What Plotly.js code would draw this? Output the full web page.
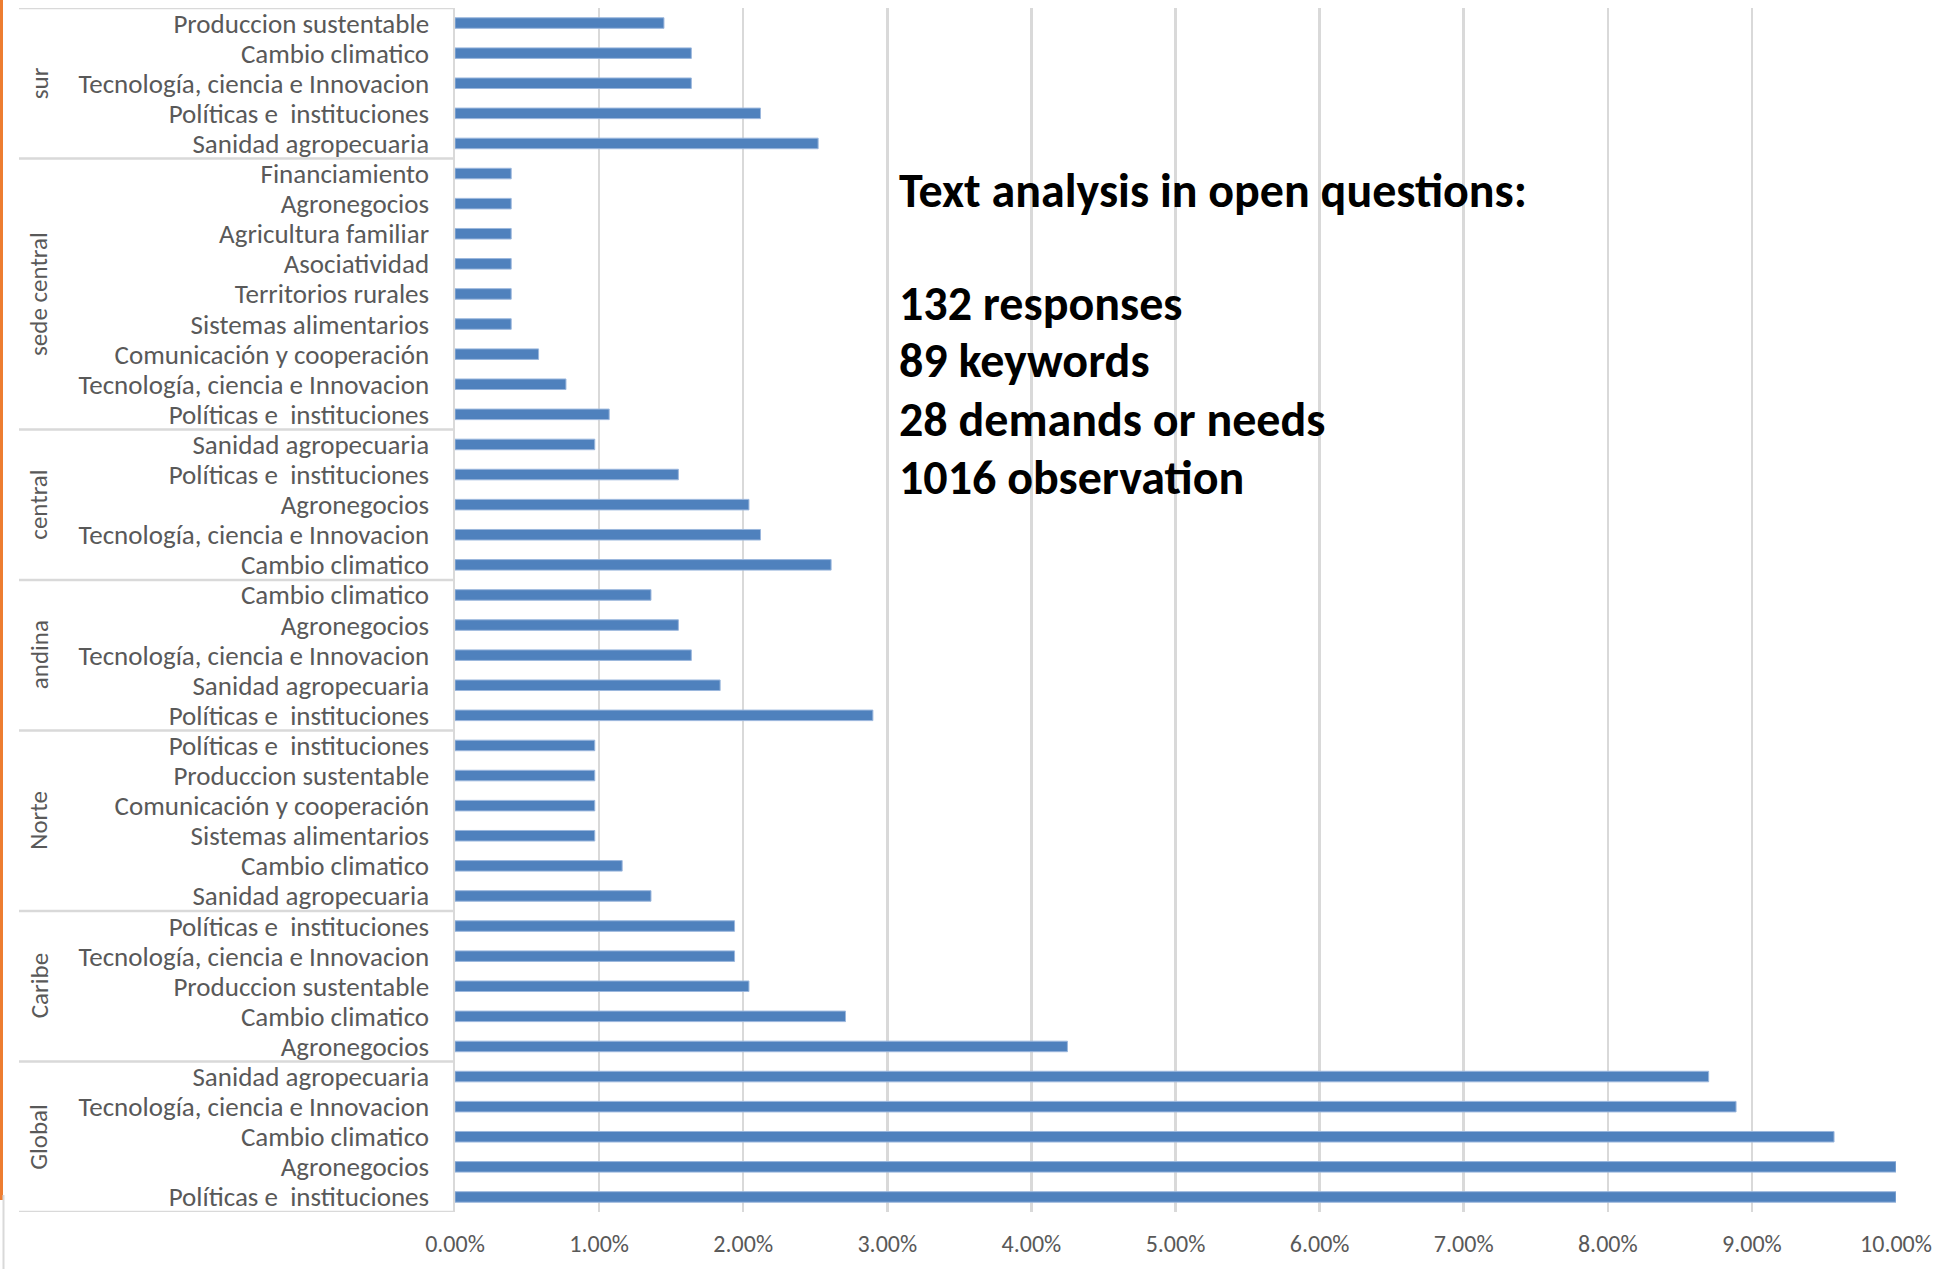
<!DOCTYPE html>
<html>
<head>
<meta charset="utf-8">
<script src="https://cdn.plot.ly/plotly-3.0.1.min.js"></script>
<style>html,body{margin:0;padding:0;background:#fff;}#chart{width:1954px;height:1269px;}</style>
</head>
<body>
<div id="chart"></div>
<script>
// Groups listed bottom-to-top (as drawn on the y axis)
const regions = ['Global', 'Caribe', 'Norte', 'andina', 'central', 'sede central', 'sur'];

const globalLabels = ['Políticas e\u00a0 instituciones', 'Agronegocios', 'Cambio climatico', 'Tecnología, ciencia e Innovacion', 'Sanidad agropecuaria'];
const globalValues = [0.1000, 0.1000, 0.0957, 0.0889, 0.0870];

const caribeLabels = ['Agronegocios', 'Cambio climatico', 'Produccion sustentable', 'Tecnología, ciencia e Innovacion', 'Políticas e\u00a0 instituciones'];
const caribeValues = [0.0425, 0.0271, 0.0204, 0.0194, 0.0194];

const norteLabels = ['Sanidad agropecuaria', 'Cambio climatico', 'Sistemas alimentarios', 'Comunicación y cooperación', 'Produccion sustentable', 'Políticas e\u00a0 instituciones'];
const norteValues = [0.0136, 0.0116, 0.0097, 0.0097, 0.0097, 0.0097];

const andinaLabels = ['Políticas e\u00a0 instituciones', 'Sanidad agropecuaria', 'Tecnología, ciencia e Innovacion', 'Agronegocios', 'Cambio climatico'];
const andinaValues = [0.0290, 0.0184, 0.0164, 0.0155, 0.0136];

const centralLabels = ['Cambio climatico', 'Tecnología, ciencia e Innovacion', 'Agronegocios', 'Políticas e\u00a0 instituciones', 'Sanidad agropecuaria'];
const centralValues = [0.0261, 0.0212, 0.0204, 0.0155, 0.0097];

const sedeLabels = ['Políticas e\u00a0 instituciones', 'Tecnología, ciencia e Innovacion', 'Comunicación y cooperación', 'Sistemas alimentarios', 'Territorios rurales', 'Asociatividad', 'Agricultura familiar', 'Agronegocios', 'Financiamiento'];
const sedeValues = [0.0107, 0.0077, 0.0058, 0.0039, 0.0039, 0.0039, 0.0039, 0.0039, 0.0039];

const surLabels = ['Sanidad agropecuaria', 'Políticas e\u00a0 instituciones', 'Tecnología, ciencia e Innovacion', 'Cambio climatico', 'Produccion sustentable'];
const surValues = [0.0252, 0.0212, 0.0164, 0.0164, 0.0145];

const infoLines = ['Text analysis in open questions:', '132 responses', '89 keywords', '28 demands or needs', '1016 observation'];

const xTickVals = [0, 0.01, 0.02, 0.03, 0.04, 0.05, 0.06, 0.07, 0.08, 0.09, 0.10];

// ---- build ----
const groupLabels = [globalLabels, caribeLabels, norteLabels, andinaLabels, centralLabels, sedeLabels, surLabels];
const groupValues = [globalValues, caribeValues, norteValues, andinaValues, centralValues, sedeValues, surValues];

const yPos = [], xVals = [], tickText = [];
const groupBounds = [];
let idx = 0;
groupLabels.forEach((labs, g) => {
  const start = idx;
  labs.forEach((lab, i) => {
    yPos.push(idx);
    xVals.push(groupValues[g][i]);
    tickText.push(lab);
    idx++;
  });
  groupBounds.push([start, idx - 1]);
});
const nRows = idx;

const W = 1954, H = 1269;
const M = {l: 455, r: 58, t: 8, b: 57};
const plotW = W - M.l - M.r, plotH = H - M.t - M.b;
const px2paperX = px => (px - M.l) / plotW;
const px2paperY = py => (H - M.b - py) / plotH;

const labelFont = "Carlito, Calibri, 'Liberation Sans Narrow', 'DejaVu Sans Condensed', sans-serif";

const shapes = [];
// group separators on the category axis
const sepX0 = px2paperX(19);
shapes.push({type: 'line', xref: 'paper', yref: 'y', x0: sepX0, x1: 0, y0: -0.5, y1: -0.5, line: {color: '#d9d9d9', width: 2.5}});
groupBounds.forEach(b => {
  shapes.push({type: 'line', xref: 'paper', yref: 'y', x0: sepX0, x1: 0, y0: b[1] + 0.5, y1: b[1] + 0.5, line: {color: '#d9d9d9', width: 2.5}});
});
// left edge decorations
shapes.push({type: 'line', xref: 'paper', yref: 'paper', x0: px2paperX(1.5), x1: px2paperX(1.5), y0: px2paperY(0), y1: px2paperY(1200), line: {color: '#ED7D31', width: 3}});
shapes.push({type: 'line', xref: 'paper', yref: 'paper', x0: px2paperX(3.5), x1: px2paperX(3.5), y0: px2paperY(1195), y1: px2paperY(1269), line: {color: '#d9d9d9', width: 2}});

const annotations = [];
regions.forEach((r, g) => {
  const b = groupBounds[g];
  annotations.push({
    xref: 'paper', yref: 'y', x: px2paperX(39), y: (b[0] + b[1]) / 2,
    text: r, showarrow: false, textangle: -90, xanchor: 'center', yanchor: 'middle',
    font: {family: labelFont, size: 25, color: '#595959'}
  });
});
const infoY = [190, 304, 361, 419, 477];
infoLines.forEach((t, i) => {
  annotations.push({
    xref: 'paper', yref: 'paper', x: px2paperX(897), y: px2paperY(infoY[i]),
    text: '<b>' + t + '</b>', showarrow: false, xanchor: 'left', yanchor: 'middle', align: 'left',
    font: {family: labelFont, size: 48, color: '#000000'}
  });
});

const trace = {
  type: 'bar', orientation: 'h',
  x: xVals, y: yPos,
  width: 0.35,
  marker: {color: '#4F81BD', line: {color: '#9bb7dd', width: 1}},
  hoverinfo: 'skip'
};

const layout = {
  width: W, height: H,
  margin: M,
  paper_bgcolor: '#ffffff', plot_bgcolor: '#ffffff',
  showlegend: false,
  xaxis: {
    range: [0, 0.10], tickvals: xTickVals, tickformat: '.2%',
    showgrid: true, gridcolor: '#d9d9d9', gridwidth: 2.5,
    zeroline: false, showline: false, ticks: '',
    ticklabelstandoff: 15,
    tickfont: {family: labelFont, size: 24, color: '#595959'}
  },
  yaxis: {
    range: [-0.5, nRows - 0.5], tickvals: yPos, ticktext: tickText,
    showgrid: false, zeroline: false, showline: true, linecolor: '#d9d9d9', linewidth: 2.5,
    ticks: '', ticklabelstandoff: 18,
    tickfont: {family: labelFont, size: 27, color: '#595959'}
  },
  shapes: shapes,
  annotations: annotations
};

Plotly.newPlot('chart', [trace], layout, {displayModeBar: false, staticPlot: true});
</script>
</body>
</html>
